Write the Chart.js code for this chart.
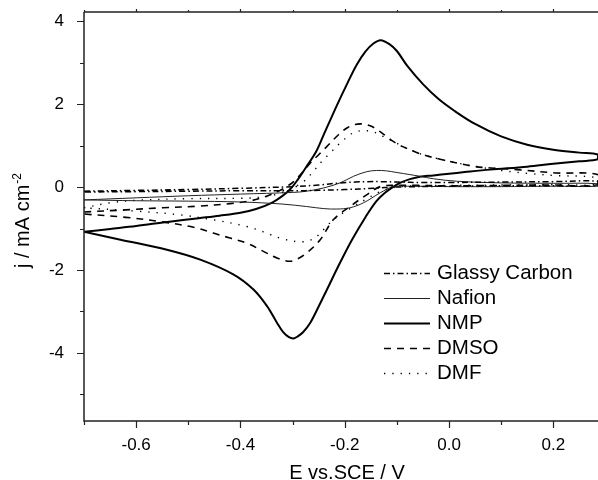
<!DOCTYPE html>
<html lang="en">
<head>
    <meta charset="UTF-8">
    <title>Cyclic voltammograms</title>
    <script src="https://cdn.jsdelivr.net/npm/chart.js"></script>
    <style>
        body { margin: 0; background: #fff; }
    </style>
</head>
<body>
    <canvas id="cvChart" width="598" height="480"></canvas>

    <script>
        // potentials (V vs SCE) and current densities (mA cm-2), forward scan then reverse scan
        const gcE = [-0.70, -0.60, -0.50, -0.40, -0.30, -0.25, -0.209, -0.18, -0.158, -0.13, -0.10, -0.05, 0.0, 0.10, 0.20, 0.286,
                     0.286, 0.20, 0.10, 0.0, -0.10, -0.145, -0.20, -0.25, -0.30, -0.40, -0.50, -0.60, -0.70];
        const gcJ = [-0.10, -0.08, -0.06, -0.03, 0.01, 0.05, 0.10, 0.12, 0.13, 0.13, 0.12, 0.11, 0.11, 0.12, 0.13, 0.14,
                     0.04, 0.03, 0.03, 0.02, 0.0, -0.03, -0.06, -0.08, -0.09, -0.09, -0.10, -0.11, -0.12];

        const nafionE = [-0.70, -0.60, -0.50, -0.40, -0.30, -0.273, -0.24, -0.209, -0.183, -0.158, -0.139, -0.12, -0.10, -0.075, -0.056, -0.03, 0.015, 0.10, 0.20, 0.286,
                         0.286, 0.20, 0.10, 0.0, -0.08, -0.107, -0.132, -0.164, -0.19, -0.215, -0.24, -0.273, -0.32, -0.40, -0.50, -0.60, -0.70];
        const nafionJ = [-0.31, -0.26, -0.21, -0.17, -0.13, -0.10, -0.02, 0.10, 0.26, 0.37, 0.40, 0.39, 0.35, 0.30, 0.26, 0.20, 0.14, 0.10, 0.09, 0.08,
                         0.02, 0.02, 0.01, 0.01, 0.02, 0.01, -0.14, -0.38, -0.50, -0.53, -0.52, -0.47, -0.41, -0.36, -0.34, -0.33, -0.31];

        const nmpE = [-0.70, -0.65, -0.60, -0.54, -0.48, -0.44, -0.40, -0.37, -0.34, -0.32, -0.305, -0.29, -0.273, -0.255, -0.24, -0.215, -0.195, -0.177, -0.16, -0.145, -0.131, -0.115, -0.10, -0.08, -0.05, -0.02, 0.01, 0.05, 0.10, 0.15, 0.20, 0.25, 0.286,
                      0.286, 0.25, 0.20, 0.15, 0.079, 0.03, 0.0, -0.03, -0.056, -0.075, -0.094, -0.11, -0.125, -0.14, -0.16, -0.186, -0.21, -0.234, -0.25, -0.266, -0.28, -0.29, -0.298, -0.307, -0.318, -0.33, -0.349, -0.375, -0.413, -0.477, -0.541, -0.63, -0.70];
        const nmpJ = [-1.08, -1.01, -0.94, -0.84, -0.75, -0.69, -0.62, -0.53, -0.38, -0.22, -0.06, 0.18, 0.50, 0.85, 1.27, 1.97, 2.50, 2.95, 3.27, 3.46, 3.54, 3.45, 3.28, 2.92, 2.48, 2.12, 1.84, 1.52, 1.22, 1.02, 0.90, 0.83, 0.78,
                      0.67, 0.62, 0.56, 0.49, 0.42, 0.36, 0.32, 0.28, 0.25, 0.19, 0.10, -0.02, -0.16, -0.35, -0.72, -1.27, -1.85, -2.47, -2.88, -3.27, -3.50, -3.60, -3.65, -3.62, -3.50, -3.27, -2.87, -2.47, -2.11, -1.75, -1.51, -1.27, -1.08];

        const dmsoE = [-0.70, -0.62, -0.55, -0.48, -0.42, -0.38, -0.35, -0.324, -0.31, -0.298, -0.282, -0.266, -0.25, -0.234, -0.212, -0.195, -0.18, -0.165, -0.15, -0.135, -0.12, -0.107, -0.09, -0.075, -0.05, -0.017, 0.015, 0.047, 0.08, 0.13, 0.206, 0.286,
                       0.286, 0.20, 0.10, 0.0, -0.06, -0.10, -0.132, -0.158, -0.19, -0.222, -0.247, -0.273, -0.29, -0.305, -0.33, -0.356, -0.388, -0.42, -0.452, -0.49, -0.55, -0.62, -0.70];
        const dmsoJ = [-0.60, -0.55, -0.50, -0.46, -0.40, -0.33, -0.22, -0.08, 0.02, 0.13, 0.34, 0.58, 0.78, 0.98, 1.26, 1.43, 1.51, 1.52, 1.47, 1.36, 1.22, 1.10, 0.98, 0.90, 0.78, 0.67, 0.58, 0.50, 0.46, 0.42, 0.34, 0.30,
                       0.06, 0.05, 0.04, 0.03, 0.04, 0.04, 0.01, -0.19, -0.47, -0.79, -1.27, -1.59, -1.73, -1.79, -1.71, -1.55, -1.35, -1.23, -1.11, -0.97, -0.84, -0.73, -0.65];

        const dmfE = [-0.70, -0.65, -0.60, -0.50, -0.40, -0.35, -0.32, -0.30, -0.279, -0.26, -0.244, -0.228, -0.209, -0.19, -0.177, -0.16, -0.145, -0.13, -0.107, -0.09, -0.075, -0.05, -0.017, 0.015, 0.05, 0.10, 0.15, 0.20, 0.286,
                      0.286, 0.20, 0.10, 0.0, -0.06, -0.10, -0.13, -0.16, -0.19, -0.222, -0.241, -0.26, -0.286, -0.324, -0.356, -0.388, -0.452, -0.516, -0.60, -0.70];
        const dmfJ = [-0.50, -0.38, -0.32, -0.28, -0.27, -0.23, -0.13, -0.02, 0.13, 0.38, 0.62, 0.82, 1.06, 1.26, 1.34, 1.36, 1.33, 1.24, 1.10, 0.99, 0.90, 0.78, 0.67, 0.58, 0.50, 0.40, 0.33, 0.28, 0.22,
                      0.07, 0.06, 0.05, 0.04, 0.03, 0.0, -0.10, -0.30, -0.52, -0.79, -1.03, -1.25, -1.32, -1.23, -1.08, -0.95, -0.79, -0.67, -0.58, -0.50];

        const xTicks = [-0.6, -0.4, -0.2, 0.0, 0.2];
        const xMinor = [-0.7, -0.5, -0.3, -0.1, 0.1];
        const yTicks = [-4, -2, 0, 2, 4];
        const yMinor = [-5, -3, -1, 1, 3];

        const pts = (E, J) => E.map((e, i) => ({ x: e, y: J[i] }));

        Chart.defaults.font.family = '"Liberation Sans", Arial, sans-serif';
        Chart.defaults.color = '#000';

        // axis lines and tick marks (outward, minor ones shorter)
        const frame = {
            id: 'frame',
            afterDraw(chart) {
                const { ctx, chartArea: a, scales: { x, y } } = chart;
                ctx.save();
                ctx.strokeStyle = '#222';
                ctx.lineWidth = 1.5;
                ctx.beginPath();
                ctx.moveTo(a.left, a.top); ctx.lineTo(a.right + 2, a.top);
                ctx.moveTo(a.left, a.top); ctx.lineTo(a.left, a.bottom);
                ctx.lineTo(a.right + 2, a.bottom);
                ctx.stroke();
                ctx.lineWidth = 1.2;
                ctx.beginPath();
                const xt = (v, len, topLen) => {
                    const px = Math.round(x.getPixelForValue(v)) + 0.5;
                    ctx.moveTo(px, a.bottom); ctx.lineTo(px, a.bottom + len);
                    ctx.moveTo(px, a.top); ctx.lineTo(px, a.top - topLen);
                };
                xTicks.forEach(v => xt(v, 7, 3));
                xMinor.forEach(v => xt(v, 4, 2));
                const yt = (v, len) => {
                    const py = Math.round(y.getPixelForValue(v)) + 0.5;
                    ctx.moveTo(a.left, py); ctx.lineTo(a.left - len, py);
                };
                yTicks.forEach(v => yt(v, 7));
                yMinor.forEach(v => yt(v, 4));
                ctx.stroke();

                // axis titles
                ctx.fillStyle = '#000';
                ctx.font = '20px "Liberation Sans", Arial, sans-serif';
                ctx.textAlign = 'center';
                ctx.textBaseline = 'alphabetic';
                ctx.fillText('E vs.SCE / V', 347, 479);

                const main = 'j / mA cm', sup = '-2';
                const w1 = ctx.measureText(main).width;
                ctx.font = '12px "Liberation Sans", Arial, sans-serif';
                const w2 = ctx.measureText(sup).width;
                ctx.translate(28.5, 221);
                ctx.rotate(-Math.PI / 2);
                ctx.textAlign = 'left';
                ctx.font = '20px "Liberation Sans", Arial, sans-serif';
                ctx.fillText(main, -(w1 + w2) / 2, 0);
                ctx.font = '12px "Liberation Sans", Arial, sans-serif';
                ctx.fillText(sup, -(w1 + w2) / 2 + w1 + 1, -8);
                ctx.restore();
            }
        };

        // legend drawn inside the plot, lower right
        const insideLegend = {
            id: 'insideLegend',
            afterDraw(chart) {
                const ctx = chart.ctx;
                ctx.save();
                ctx.font = '20.5px "Liberation Sans", Arial, sans-serif';
                ctx.textBaseline = 'middle';
                ctx.fillStyle = '#000';
                chart.data.datasets.forEach((ds, i) => {
                    const yy = 273.5 + i * 25;
                    ctx.strokeStyle = ds.borderColor;
                    ctx.lineWidth = ds.borderWidth;
                    ctx.setLineDash(ds.borderDash || []);
                    ctx.beginPath();
                    ctx.moveTo(384, yy); ctx.lineTo(430, yy);
                    ctx.stroke();
                    ctx.setLineDash([]);
                    ctx.fillText(ds.label, 437, yy);
                });
                ctx.restore();
            }
        };

        const line = (label, data, width, dash, color) => ({
            label: label,
            data: data,
            showLine: true,
            borderColor: color || '#000',
            borderWidth: width,
            borderDash: dash,
            pointRadius: 0,
            tension: 0.35,
            fill: false
        });

        new Chart(document.getElementById('cvChart'), {
            type: 'scatter',
            data: {
                datasets: [
                    line('Glassy Carbon', pts(gcE, gcJ), 1.5, [6, 3, 1.5, 3]),
                    line('Nafion', pts(nafionE, nafionJ), 1, [], '#222'),
                    line('NMP', pts(nmpE, nmpJ), 2, []),
                    line('DMSO', pts(dmsoE, dmsoJ), 1.6, [7, 6]),
                    line('DMF', pts(dmfE, dmfJ), 1.4, [1.3, 7])
                ]
            },
            options: {
                responsive: false,
                animation: false,
                layout: { padding: { top: 12, right: 0, left: 0, bottom: 0 } },
                plugins: { legend: { display: false }, tooltip: { enabled: false } },
                scales: {
                    x: {
                        type: 'linear',
                        min: -0.7,
                        max: 0.2857,
                        grid: { display: false },
                        border: { display: false },
                        afterBuildTicks: s => { s.ticks = xTicks.map(v => ({ value: v })); },
                        afterFit: s => { s.height = 59; s.paddingLeft = 0; s.paddingRight = 0; },
                        ticks: {
                            autoSkip: false,
                            maxRotation: 0,
                            padding: 6,
                            font: { size: 17 },
                            callback: v => v.toFixed(1)
                        }
                    },
                    y: {
                        type: 'linear',
                        min: -5.64,
                        max: 4.22,
                        grid: { display: false },
                        border: { display: false },
                        afterBuildTicks: s => { s.ticks = yTicks.map(v => ({ value: v })); },
                        afterFit: s => { s.width = 84; s.paddingTop = 0; s.paddingBottom = 0; },
                        ticks: {
                            autoSkip: false,
                            padding: 12,
                            font: { size: 17 },
                            callback: v => String(v)
                        }
                    }
                }
            },
            plugins: [frame, insideLegend]
        });
    </script>
</body>
</html>
